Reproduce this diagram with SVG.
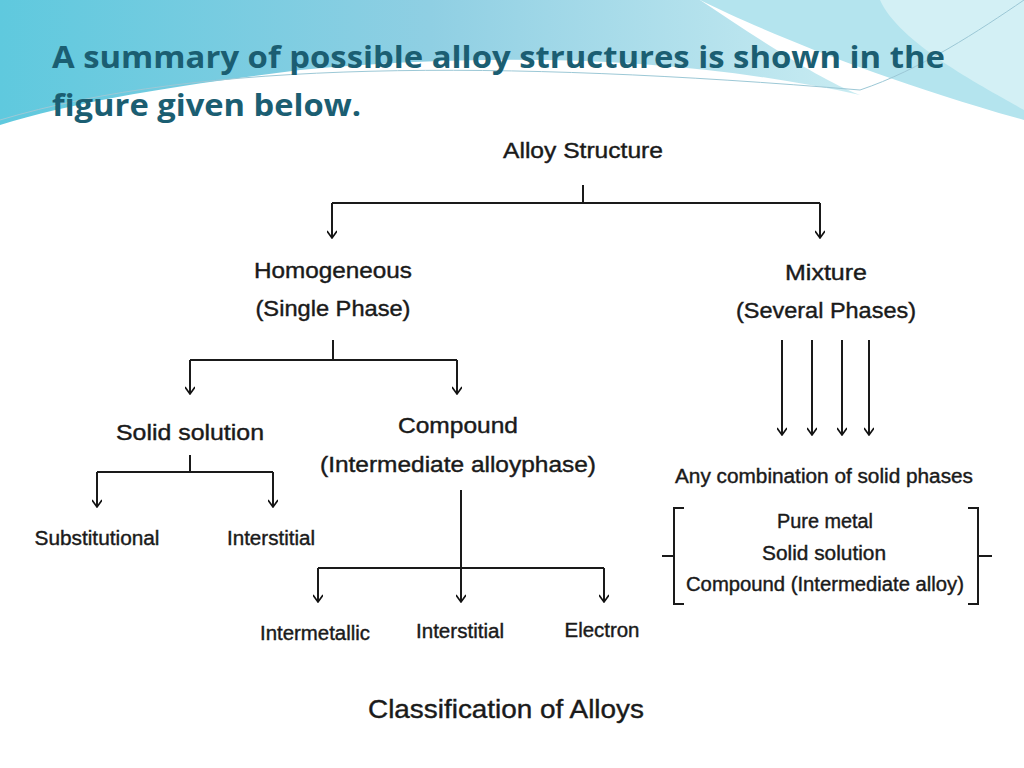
<svg xmlns="http://www.w3.org/2000/svg" width="1024" height="768" viewBox="0 0 1024 768">
<defs>
<linearGradient id="bg" x1="0" y1="0" x2="1" y2="0"><stop offset="0" stop-color="#5fc9de"/><stop offset="0.5" stop-color="#8fcfe3"/><stop offset="1" stop-color="#c9ecf2"/></linearGradient>
<marker id="ar" viewBox="0 0 10 10" refX="9" refY="5" markerWidth="10" markerHeight="10" markerUnits="userSpaceOnUse" orient="auto"><path d="M2,0 L9,5 L2,10" fill="none" stroke="#111" stroke-width="1.6"/></marker>
<style>
.t{font-family:"Liberation Sans",Arial,sans-serif;font-size:22px;fill:#1a1a1a;text-anchor:middle;stroke:#1a1a1a;stroke-width:0.4}
.s{font-size:20px}
.c path,.c line{stroke:#1a1a1a;stroke-width:2;fill:none}
.a{marker-end:url(#ar)}
.h{font-family:"Open Sans","Liberation Sans",sans-serif;font-weight:bold;font-size:31px;fill:#1b5e72}
</style>
</defs>
<rect width="1024" height="768" fill="#fff"/>
<path d="M0,0 H1024 V120 C880,80 760,30 700,0 Z" fill="#b4e4ee"/>
<path d="M0,0 H700 C760,40 820,80 860,95 C700,60 520,50 300,70 C180,85 80,100 0,125 Z" fill="url(#bg)"/>
<path d="M1024,0 V110 C990,90 900,45 880,0 Z" fill="#d3f0f5"/>
<path d="M0,120 C200,60 500,60 860,90 C920,70 980,30 1024,0" fill="none" stroke="#9cc8d6" stroke-width="1"/>
<text class="h" x="52" y="68" textLength="893" lengthAdjust="spacingAndGlyphs">A summary of possible alloy structures is shown in the</text>
<text class="h" x="52" y="116" textLength="309" lengthAdjust="spacingAndGlyphs">figure given below.</text>
<g class="c" id="connectors">
<line x1="583" y1="185" x2="583" y2="203"/>
<line x1="332" y1="203" x2="820" y2="203"/>
<line x1="332" y1="203" x2="332" y2="238" class="a"/>
<line x1="820" y1="203" x2="820" y2="238" class="a"/>
<line x1="333" y1="340" x2="333" y2="360"/>
<line x1="190" y1="360" x2="457" y2="360"/>
<line x1="190" y1="360" x2="190" y2="394" class="a"/>
<line x1="457" y1="360" x2="457" y2="394" class="a"/>
<line x1="190" y1="455" x2="190" y2="472"/>
<line x1="97" y1="472" x2="273" y2="472"/>
<line x1="97" y1="472" x2="97" y2="507" class="a"/>
<line x1="273" y1="472" x2="273" y2="507" class="a"/>
<line x1="461" y1="490" x2="461" y2="602" class="a"/>
<line x1="318" y1="568" x2="604" y2="568"/>
<line x1="318" y1="568" x2="318" y2="602" class="a"/>
<line x1="604" y1="568" x2="604" y2="602" class="a"/>
<line x1="782" y1="340" x2="782" y2="435" class="a"/>
<line x1="812" y1="340" x2="812" y2="435" class="a"/>
<line x1="842" y1="340" x2="842" y2="435" class="a"/>
<line x1="869" y1="340" x2="869" y2="435" class="a"/>
<path d="M684,508 H674 V604 H684 M674,556 H662"/>
<path d="M968,508 H978 V604 H968 M978,556 H992"/>
</g>
<g id="alloy"><text class="t" x="583" y="158" textLength="160" lengthAdjust="spacingAndGlyphs">Alloy Structure</text></g>
<g id="homogeneous"><text class="t" x="333" y="278" textLength="158" lengthAdjust="spacingAndGlyphs">Homogeneous</text><text class="t" x="333" y="316" textLength="155" lengthAdjust="spacingAndGlyphs">(Single Phase)</text></g>
<g id="mixture"><text class="t" x="826" y="280" textLength="82" lengthAdjust="spacingAndGlyphs">Mixture</text><text class="t" x="826" y="318" textLength="180" lengthAdjust="spacingAndGlyphs">(Several Phases)</text></g>
<g id="solid"><text class="t" x="190" y="440" textLength="148" lengthAdjust="spacingAndGlyphs">Solid solution</text></g>
<g id="compound"><text class="t" x="458" y="433" textLength="120" lengthAdjust="spacingAndGlyphs">Compound</text><text class="t" x="458" y="472" textLength="276" lengthAdjust="spacingAndGlyphs">(Intermediate alloyphase)</text></g>
<g id="subst"><text class="t s" x="97" y="545" textLength="125" lengthAdjust="spacingAndGlyphs">Substitutional</text></g>
<g id="inter1"><text class="t s" x="271" y="545" textLength="88" lengthAdjust="spacingAndGlyphs">Interstitial</text></g>
<g id="intermet"><text class="t s" x="315" y="640" textLength="110" lengthAdjust="spacingAndGlyphs">Intermetallic</text></g>
<g id="inter2"><text class="t s" x="460" y="638" textLength="88" lengthAdjust="spacingAndGlyphs">Interstitial</text></g>
<g id="electron"><text class="t s" x="602" y="637" textLength="75" lengthAdjust="spacingAndGlyphs">Electron</text></g>
<g id="anycomb"><text class="t s" x="824" y="483" textLength="298" lengthAdjust="spacingAndGlyphs">Any combination of solid phases</text></g>
<g id="list"><text class="t s" x="825" y="528" textLength="96" lengthAdjust="spacingAndGlyphs">Pure metal</text><text class="t s" x="824" y="560" textLength="124" lengthAdjust="spacingAndGlyphs">Solid solution</text><text class="t s" x="825" y="591" textLength="278" lengthAdjust="spacingAndGlyphs">Compound (Intermediate alloy)</text></g>
<g id="caption"><text class="t" x="506" y="718" style="font-size:26px" textLength="276" lengthAdjust="spacingAndGlyphs">Classification of Alloys</text></g>
</svg>
